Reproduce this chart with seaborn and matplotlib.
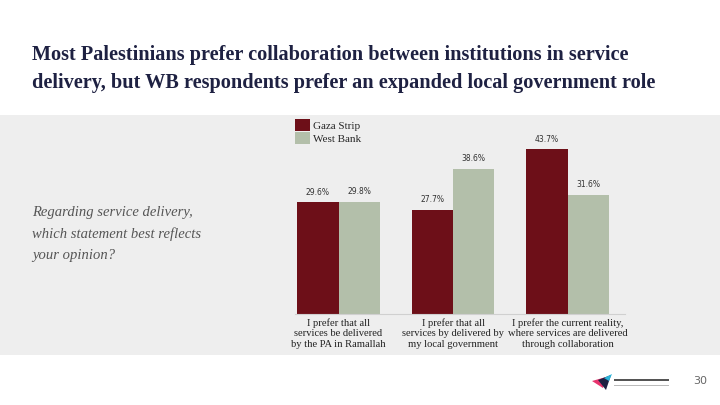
import matplotlib
matplotlib.use("Agg")
import matplotlib.pyplot as plt
import seaborn as sns
import pandas as pd
from matplotlib.patches import Rectangle, Polygon

categories = [
    "I prefer that all\nservices be delivered\nby the PA in Ramallah",
    "I prefer that all\nservices by delivered by\nmy local government",
    "I prefer the current reality,\nwhere services are delivered\nthrough collaboration",
]
regions = ["Gaza Strip", "West Bank"]
gaza = [29.6, 27.7, 43.7]
west_bank = [29.8, 38.6, 31.6]

df = pd.DataFrame({
    "category": categories * 2,
    "region": [regions[0]] * 3 + [regions[1]] * 3,
    "value": gaza + west_bank,
})

sns.set_theme(style="white")
plt.rcParams["font.family"] = ["Liberation Serif", "DejaVu Serif"]

fig = plt.figure(figsize=(7.2, 4.05), dpi=100)
fig.patch.set_facecolor("white")
band = Rectangle((0, (405 - 355) / 405), 1, 240 / 405,
                 transform=fig.transFigure, facecolor="#eeeeee",
                 edgecolor="none", zorder=-5)
fig.add_artist(band)

ax = fig.add_axes([295 / 720, (405 - 314) / 405, 330 / 720, 196 / 405])
ax.set_zorder(2)
ax.set_facecolor("none")
palette = {"Gaza Strip": "#6d0f18", "West Bank": "#b3bfaa"}
sns.barplot(data=df, x="category", y="value", hue="region", palette=palette,
            order=categories, hue_order=regions, width=0.72, saturation=1,
            ax=ax, edgecolor="none")

for cont in ax.containers:
    ax.bar_label(cont, labels=[f"{v:.1f}%" for v in cont.datavalues],
                 padding=4, fontsize=5.5, color="#333333",
                 family="DejaVu Sans")

ax.set_xlim(-0.38, 2.5)
ax.set_ylim(0, 52)
ax.set_xlabel("")
ax.set_ylabel("")
ax.set_yticks([])
for s in ["top", "right", "left"]:
    ax.spines[s].set_visible(False)
ax.spines["bottom"].set_color("#d0d0d0")
ax.spines["bottom"].set_linewidth(0.8)
ax.tick_params(axis="x", length=0, pad=3, labelsize=7.6, labelcolor="#222222")
for lbl in ax.get_xticklabels():
    lbl.set_linespacing(1.2)

leg = ax.legend(loc="upper left", bbox_to_anchor=(0.0, 0.995), frameon=False,
                fontsize=8, handlelength=1.35, handleheight=1.25,
                handletextpad=0.3, labelspacing=0.15, borderaxespad=0,
                borderpad=0)

fig.text(32 / 720, 1 - 69 / 405,
         "Most Palestinians prefer collaboration between institutions in service\n"
         "delivery, but WB respondents prefer an expanded local government role",
         fontsize=14.6, fontweight="bold", color="#1e2142", va="center",
         ha="left", linespacing=1.5)

fig.text(32 / 720, 1 - 234 / 405,
         "Regarding service delivery,\nwhich statement best reflects\nyour opinion?",
         fontsize=10.5, fontstyle="italic", color="#555555", va="center",
         ha="left", linespacing=1.8)

fig.text(700 / 720, 1 - 381 / 405, "30", fontsize=8, color="#666666",
         ha="center", va="center", family="DejaVu Sans")

# small logo mark
def fp(x, y):
    return (x / 720, 1 - y / 405)
fig.add_artist(Polygon([fp(592, 381), fp(606, 377), fp(603, 388)],
                       closed=True, transform=fig.transFigure,
                       facecolor="#e8336d", edgecolor="none"))
fig.add_artist(Polygon([fp(598, 380), fp(611, 375), fp(606, 390)],
                       closed=True, transform=fig.transFigure,
                       facecolor="#1e2142", edgecolor="none"))
fig.add_artist(Polygon([fp(604, 378), fp(612, 374), fp(609, 381)],
                       closed=True, transform=fig.transFigure,
                       facecolor="#2bb3d9", edgecolor="none"))
fig.add_artist(Rectangle(fp(614, 381), 55 / 720, 2 / 405,
                         transform=fig.transFigure, facecolor="#555555",
                         edgecolor="none"))
fig.add_artist(Rectangle(fp(614, 386), 55 / 720, 1.5 / 405,
                         transform=fig.transFigure, facecolor="#bbbbbb",
                         edgecolor="none"))

fig.savefig("out.png", dpi=100)
